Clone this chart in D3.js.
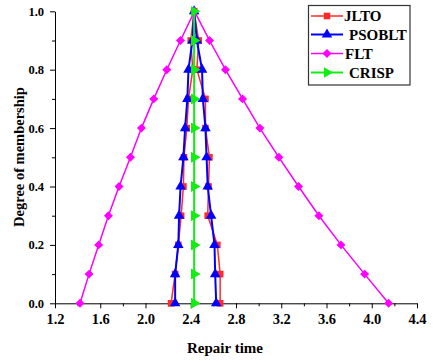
<!DOCTYPE html>
<html>
<head>
<meta charset="utf-8">
<script src="https://cdn.jsdelivr.net/npm/d3@7"></script>
<style>
  body { margin: 0; background: #fff; }
  svg { display: block; font-family: "Liberation Serif", "Times New Roman", serif; font-weight: bold; }
</style>
</head>
<body>
<div id="chart"></div>
<script>
// membership levels, left branch goes up 0 -> 1, right branch comes down 0.9 -> 0
const levels = [0, 0.1, 0.2, 0.3, 0.4, 0.5, 0.6, 0.7, 0.8, 0.9, 1.0];

const jltoLeft   = [2.226, 2.262, 2.29, 2.315, 2.335, 2.34, 2.365, 2.38, 2.418, 2.40, 2.43];
const jltoRight  = [2.66, 2.66, 2.635, 2.55, 2.557, 2.565, 2.53, 2.53, 2.454, 2.47];
const psoLeft    = [2.262, 2.262, 2.29, 2.297, 2.31, 2.335, 2.35, 2.37, 2.38, 2.415, 2.43];
const psoRight   = [2.625, 2.616, 2.61, 2.58, 2.55, 2.54, 2.53, 2.507, 2.50, 2.454];
const fltLeft    = [1.421, 1.501, 1.586, 1.672, 1.766, 1.867, 1.964, 2.073, 2.188, 2.309, 2.433];
const fltRight   = [4.149, 3.937, 3.728, 3.533, 3.353, 3.179, 3.011, 2.858, 2.707, 2.566];
const crispLeft  = [2.43, 2.43, 2.43, 2.43, 2.43, 2.43, 2.43, 2.43, 2.43, 2.43, 2.43];
const crispRight = [2.43, 2.43, 2.43, 2.43, 2.43, 2.43, 2.43, 2.43, 2.43, 2.43];

const xTicks = [1.2, 1.6, 2.0, 2.4, 2.8, 3.2, 3.6, 4.0, 4.4];
const yTicks = [0.0, 0.2, 0.4, 0.6, 0.8, 1.0];

function branch(left, right) {
  const pts = left.map((x, i) => [x, levels[i]]);
  for (let i = right.length - 1; i >= 0; i--) pts.push([right[i], levels[i]]);
  return pts;
}

const series = [
  { name: 'JLTO',   color: '#ff2a2a', lw: 1.5, sym: d3.symbolSquare,   size: 44, rot: 0,  pts: branch(jltoLeft, jltoRight), dx: 0 },
  { name: 'PSOBLT', color: '#0000ff', lw: 2,   sym: d3.symbolTriangle, size: 48, rot: 0,  pts: branch(psoLeft, psoRight), dx: 5 },
  { name: 'FLT',    color: '#ff00ff', lw: 1.5, sym: d3.symbolSquare,   size: 40, rot: 45, pts: branch(fltLeft, fltRight), dx: 1 },
  { name: 'CRISP',  color: '#11ee11', lw: 2,   sym: d3.symbolTriangle, size: 48, rot: 90, pts: branch(crispLeft, crispRight), dx: 5 }
];

const width = 433, height = 364;
const margin = { top: 11.3, right: 16, bottom: 60.7, left: 55 };
const cw = width - margin.left - margin.right;
const ch = height - margin.top - margin.bottom;

const svg = d3.select('#chart').append('svg')
  .attr('width', width).attr('height', height);
const g = svg.append('g').attr('transform', `translate(${margin.left},${margin.top})`);

const x = d3.scaleLinear().domain([1.2, 4.4]).range([0, cw]);
const y = d3.scaleLinear().domain([0, 1]).range([ch, 0]);

// minor ticks
const xMinor = d3.range(1.4, 4.4, 0.4);
const yMinor = d3.range(0.1, 1.0, 0.2);
g.append('g').attr('transform', `translate(0,${ch})`)
  .call(d3.axisBottom(x).tickValues(xMinor).tickSize(3).tickFormat(''))
  .call(a => a.select('.domain').remove());
g.append('g')
  .call(d3.axisLeft(y).tickValues(yMinor).tickSize(3).tickFormat(''))
  .call(a => a.select('.domain').remove());

// main axes
const xa = g.append('g').attr('transform', `translate(0,${ch})`)
  .attr('font-family', '"Liberation Serif", serif').attr('font-weight', 'bold')
  .call(d3.axisBottom(x).tickValues(xTicks).tickSize(5).tickSizeOuter(0).tickFormat(d3.format('.1f')));
xa.selectAll('text').style('font-size', '14.5px').style('font-family', '"Liberation Serif", serif')
  .style('font-weight', 'bold').attr('y', 10).attr('dy', '0.71em').attr('fill', '#000');

const ya = g.append('g')
  .attr('font-family', '"Liberation Serif", serif').attr('font-weight', 'bold')
  .call(d3.axisLeft(y).tickValues(yTicks).tickSize(5).tickSizeOuter(0).tickFormat(d3.format('.1f')));
ya.selectAll('text').style('font-size', '12.5px').style('font-family', '"Liberation Serif", serif')
  .style('font-weight', 'bold').attr('x', -11).attr('fill', '#000');

// lines + markers
const line = d3.line().x(d => x(d[0])).y(d => y(d[1]));
series.forEach(s => {
  g.append('path').datum(s.pts)
    .attr('d', line).attr('fill', 'none')
    .attr('stroke', s.color).attr('stroke-width', s.lw);
  g.selectAll(null).data(s.pts).enter().append('path')
    .attr('d', d3.symbol().type(s.sym).size(s.size))
    .attr('transform', d => `translate(${x(d[0])},${y(d[1])}) rotate(${s.rot})`)
    .attr('fill', s.color);
});

// axis titles
svg.append('text')
  .attr('x', margin.left + cw / 2 - 11).attr('y', 353)
  .attr('text-anchor', 'middle').style('font-size', '15px')
  .text('Repair time');
svg.append('text')
  .attr('transform', 'rotate(-90)')
  .attr('x', -157).attr('y', 24)
  .attr('text-anchor', 'middle').style('font-size', '14.5px')
  .text('Degree of membership');

// legend
const lg = svg.append('g');
lg.append('rect').attr('x', 308.5).attr('y', 5.5).attr('width', 101.5).attr('height', 79.5)
  .attr('fill', '#fff').attr('stroke', '#333').attr('stroke-width', 1.2);
const legendY = [16, 34.5, 53.5, 72.5];
series.forEach((s, i) => {
  const ly = legendY[i];
  lg.append('line').attr('x1', 311).attr('x2', 343).attr('y1', ly).attr('y2', ly)
    .attr('stroke', s.color).attr('stroke-width', s.lw);
  lg.append('path')
    .attr('d', d3.symbol().type(s.sym).size(s.size))
    .attr('transform', `translate(327,${ly}) rotate(${s.rot})`)
    .attr('fill', s.color);
  lg.append('text').attr('x', 344 + s.dx).attr('y', ly + 5)
    .style('font-size', '15px').text(s.name);
});
</script>
</body>
</html>
